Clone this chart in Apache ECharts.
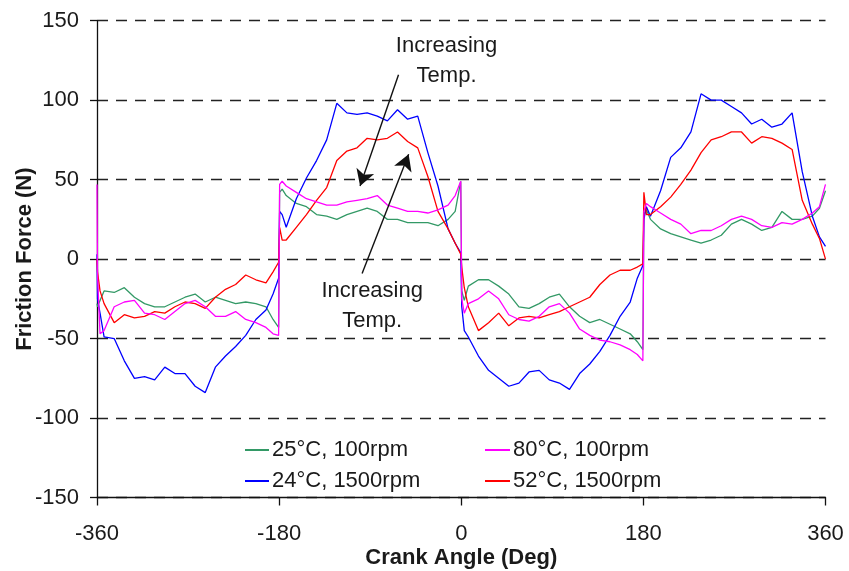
<!DOCTYPE html>
<html>
<head>
<meta charset="utf-8">
<script src="https://cdn.jsdelivr.net/npm/echarts@6/dist/echarts.min.js"></script>
<style>html,body{margin:0;padding:0;background:#fff}#c{width:849px;height:571px}</style>
</head>
<body>
<div id="c"></div>
<script>
// Crank angle (deg)
const angle = [
  -360, -359.5, -357, -353, -343, -333, -323, -313, -303, -293, -283, -273, -263, -253, -243, -233, -223, -213, -203, -193, -186, -180.5,
  -179.5, -177, -173, -163, -153, -143, -133, -123, -113, -103, -93, -83, -73, -63, -53, -43, -33, -23, -13, -6, -0.5,
  0.5, 3, 7, 17, 27, 37, 47, 57, 67, 77, 87, 97, 107, 117, 127, 137, 147, 157, 167, 174, 179.5,
  180.5, 183, 187, 197, 207, 217, 227, 237, 247, 257, 267, 277, 287, 297, 307, 317, 327, 337, 347, 354, 360
];
// Friction force (N)
const green25_100 = [
  -28, -30, -26, -20, -21, -18, -24, -28, -30, -30, -27, -24, -22, -27, -24, -26, -28, -27, -28, -30, -38, -43,
  42, 44, 40, 35, 33, 28, 27, 25, 28, 30, 32, 30, 25, 25, 23, 23, 23, 21, 25, 30, 49,
  -20, -26, -17, -13, -13, -17, -22, -30, -31, -28, -24, -22, -30, -36, -40, -38, -41, -44, -47, -52, -57,
  28, 31, 25, 19, 16, 14, 12, 10, 12, 15, 22, 25, 22, 18, 20, 30, 25, 25, 27, 32, 43
];
const magenta80_100 = [
  47, -10, -47, -45, -30, -27, -26, -34, -35, -38, -33, -28, -26, -30, -36, -36, -33, -38, -40, -43, -47, -48,
  47, 49, 46, 42, 38, 36, 34, 34, 36, 37, 38, 40, 34, 32, 30, 30, 29, 31, 34, 40, 49,
  -25, -34, -28, -25, -20, -25, -35, -38, -39, -36, -30, -28, -34, -44, -48, -51, -52, -54, -57, -60, -64,
  30, 35, 33, 29, 25, 22, 16, 18, 18, 21, 25, 27, 25, 21, 20, 23, 22, 25, 29, 33, 47
];
const blue24_1500 = [
  3, -25, -34, -49, -50, -64, -75, -74, -76, -68, -72, -72, -80, -84, -68, -61, -55, -48, -38, -32, -22, -12,
  30, 28, 20, 38, 51, 62, 75, 98, 92, 91, 92, 90, 87, 94, 88, 90, 67, 46, 19, 10, 4,
  -30, -45, -49, -61, -70, -75, -80, -78, -71, -70, -76, -78, -82, -72, -66, -58, -48, -36, -27, -12, -4,
  25, 33, 27, 43, 64, 70, 80, 104, 100, 100, 96, 92, 85, 88, 83, 85, 92, 55, 27, 14, 8
];
const red52_1500 = [
  0, -8, -20, -28, -40, -35, -37, -36, -33, -34, -30, -27, -28, -31, -24, -19, -16, -10, -13, -15, -8, -2,
  20, 12, 12, 20, 28, 37, 45, 62, 68, 70, 76, 75, 76, 80, 74, 70, 52, 30, 19, 10, 3,
  -5, -18, -30, -45, -40, -34, -42, -37, -36, -37, -35, -33, -30, -27, -24, -16, -10, -7, -7, -5, -3,
  42, 28, 28, 33, 39, 47, 56, 67, 75, 77, 80, 80, 73, 77, 76, 73, 69, 37, 22, 13, 0
];
const xTicks = [-360, -180, 0, 180, 360];
const yTicks = [-150, -100, -50, 0, 50, 100, 150];
const seriesNames = ['25°C, 100rpm', '80°C, 100rpm', '24°C, 1500rpm', '52°C, 1500rpm'];
const annotationText = 'Increasing\nTemp.';

const FONT = "'Liberation Sans', Arial, sans-serif";
const colors = {'25°C, 100rpm': '#339966', '80°C, 100rpm': '#FF00FF', '24°C, 1500rpm': '#0000FF', '52°C, 1500rpm': '#FF0000'};
const zip = vals => angle.map((a, i) => [a, vals[i]]);

function lineSeries(name, vals, extra) {
  return Object.assign({
    name: name, type: 'line', data: zip(vals), showSymbol: false, symbol: 'none',
    lineStyle: {width: 1.3, color: colors[name]}, itemStyle: {color: colors[name]},
    animation: false, z: 3
  }, extra || {});
}

const chart = echarts.init(document.getElementById('c'), null, {renderer: 'canvas'});
const legendItem = (name, left, top, w) => ({
  data: [name], left: left, top: top, padding: 0, icon: 'rect', itemWidth: w, itemHeight: 2,
  textStyle: {fontFamily: FONT, fontSize: 22, color: '#1a1a1a', padding: [0, 0, 0, -2]},
  selectedMode: false
});

chart.setOption({
  animation: false,
  backgroundColor: '#fff',
  grid: {left: 97, right: 23.5, top: 20.7, bottom: 73.5, containLabel: false, outerBoundsMode: 'none'},
  legend: [
    legendItem(seriesNames[0], 245, 439, 24),
    legendItem(seriesNames[1], 485, 439, 25),
    legendItem(seriesNames[2], 245, 470, 24),
    legendItem(seriesNames[3], 485, 470, 25)
  ],
  xAxis: {
    type: 'value', min: xTicks[0], max: xTicks[xTicks.length - 1], interval: 180,
    name: 'Crank Angle (Deg)', nameLocation: 'middle', nameGap: 49, nameMoveOverlap: false,
    nameTextStyle: {fontFamily: FONT, fontSize: 22, fontWeight: 'bold', color: '#1a1a1a'},
    axisLine: {onZero: false, lineStyle: {color: '#111', width: 1.3}},
    axisTick: {show: true, inside: false, length: 8, lineStyle: {color: '#111', width: 1.3}},
    axisLabel: {fontFamily: FONT, fontSize: 22, color: '#1a1a1a', margin: 25},
    splitLine: {show: false}
  },
  yAxis: {
    type: 'value', min: yTicks[0], max: yTicks[yTicks.length - 1], interval: 50,
    name: 'Friction Force (N)', nameLocation: 'middle', nameGap: 61, nameMoveOverlap: false,
    nameTextStyle: {fontFamily: FONT, fontSize: 22, fontWeight: 'bold', color: '#1a1a1a'},
    axisLine: {show: true, onZero: false, lineStyle: {color: '#111', width: 1.3}},
    axisTick: {show: true, inside: false, length: 7, lineStyle: {color: '#111', width: 1.3}},
    axisLabel: {fontFamily: FONT, fontSize: 22, color: '#1a1a1a', margin: 18},
    splitLine: {show: true, lineStyle: {color: '#222', width: 1.3, type: [11, 8]}}
  },
  series: [
    lineSeries(seriesNames[0], green25_100),
    lineSeries(seriesNames[2], blue24_1500),
    lineSeries(seriesNames[3], red52_1500, {
      markLine: {
        silent: true, animation: false, symbol: ['none', 'arrow'], symbolSize: [14, 16],
        lineStyle: {color: '#111', width: 1.4, type: 'solid'}, label: {show: false},
        data: [
          [{coord: [-62, 116]}, {coord: [-100, 46]}],
          [{coord: [-98, -9]}, {coord: [-52, 66]}]
        ]
      },
      markPoint: {
        silent: true, animation: false, symbol: 'circle', symbolSize: 0,
        label: {show: true, position: 'inside', formatter: annotationText, fontFamily: FONT, fontSize: 22, lineHeight: 30, color: '#1a1a1a', align: 'center'},
        data: [{coord: [-14.5, 124.5]}, {coord: [-88, -29.5]}]
      }
    }),
    lineSeries(seriesNames[1], magenta80_100)
  ]
});
</script>
</body>
</html>
